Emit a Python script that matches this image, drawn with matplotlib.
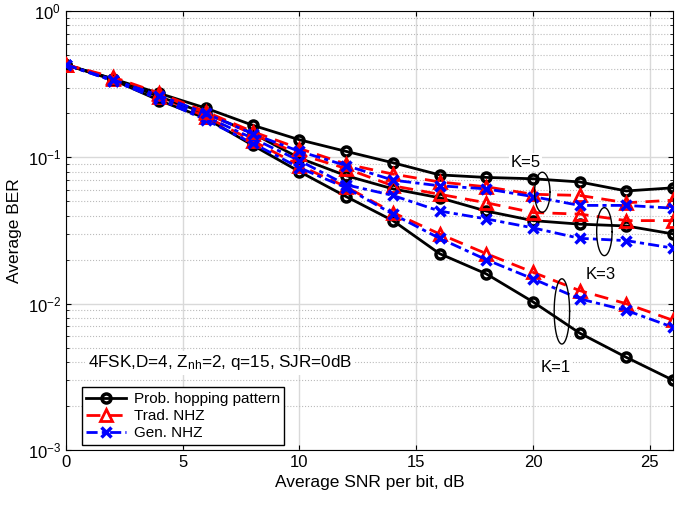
import numpy as np
import matplotlib
matplotlib.use("Agg")
import matplotlib.pyplot as plt

plt.rcParams['font.family'] = ['Liberation Sans', 'DejaVu Sans']
plt.rcParams['mathtext.fontset'] = 'custom'
plt.rcParams['mathtext.rm'] = 'Liberation Sans'
plt.rcParams['mathtext.it'] = 'Liberation Sans:italic'

# SNR per bit (dB)
snr = [0, 2, 4, 6, 8, 10, 12, 14, 16, 18, 20, 22, 24, 26]

# Prob. hopping pattern
prob_k1 = [0.43, 0.34, 0.245, 0.185, 0.121, 0.080, 0.054, 0.037, 0.022, 0.016, 0.0103, 0.0063, 0.0043, 0.0030]
prob_k3 = [0.43, 0.345, 0.26, 0.20, 0.146, 0.099, 0.075, 0.061, 0.053, 0.043, 0.037, 0.035, 0.034, 0.030]
prob_k5 = [0.43, 0.345, 0.274, 0.217, 0.166, 0.132, 0.110, 0.092, 0.076, 0.073, 0.0715, 0.068, 0.059, 0.062]

# Trad. NHZ
trad_k1 = [0.43, 0.345, 0.26, 0.19, 0.13, 0.088, 0.063, 0.042, 0.030, 0.022, 0.0164, 0.0123, 0.0100, 0.0077]
trad_k3 = [0.43, 0.35, 0.27, 0.20, 0.145, 0.105, 0.084, 0.064, 0.056, 0.049, 0.042, 0.041, 0.037, 0.037]
trad_k5 = [0.43, 0.355, 0.275, 0.205, 0.15, 0.115, 0.090, 0.077, 0.068, 0.063, 0.056, 0.055, 0.049, 0.051]

# Gen. NHZ
gen_k1 = [0.43, 0.335, 0.25, 0.18, 0.125, 0.085, 0.062, 0.041, 0.028, 0.020, 0.0148, 0.0108, 0.0090, 0.0069]
gen_k3 = [0.43, 0.335, 0.255, 0.19, 0.135, 0.095, 0.065, 0.055, 0.043, 0.038, 0.033, 0.028, 0.027, 0.024]
gen_k5 = [0.43, 0.34, 0.265, 0.20, 0.145, 0.11, 0.088, 0.070, 0.064, 0.061, 0.054, 0.047, 0.047, 0.045]

# ellipse marks: (center x, center y, half width in dB, half height in decades, label, label x, label y)
groups = [
    (20.4, 0.0578, 0.33, 0.137, 'K=5', 19.67, 0.093),
    (23.06, 0.0311, 0.33, 0.164, 'K=3', 22.9, 0.0158),
    (21.24, 0.00886, 0.33, 0.223, 'K=1', 20.96, 0.00366),
]

fig = plt.figure(figsize=(6.85, 5.08), dpi=100)
ax = fig.add_axes([0.0964, 0.1142, 0.8861, 0.8638])

lw = 2
for i, (p, t, g) in enumerate([(prob_k1, trad_k1, gen_k1), (prob_k3, trad_k3, gen_k3), (prob_k5, trad_k5, gen_k5)]):
    ax.plot(snr, p, '-', color='black', lw=lw, marker='o', ms=6.5, mfc='none', mew=2.5,
            label='Prob. hopping pattern' if i == 0 else None, zorder=3)
    ax.plot(snr, t, '--', color='red', lw=lw, dashes=(5, 3), marker='^', ms=8, mfc='none', mew=2,
            label='Trad. NHZ' if i == 0 else None, zorder=3)
    ax.plot(snr, g, '-.', color='blue', lw=lw, dashes=(4, 1.5, 1.5, 1.5), marker='x', ms=7, mew=2.5,
            label='Gen. NHZ' if i == 0 else None, zorder=3)

tt = np.linspace(0, 2 * np.pi, 100)
for cx, cy, a, b, lab, lx, ly in groups:
    ax.plot(cx + a * np.cos(tt), 10 ** (np.log10(cy) + b * np.sin(tt)), color='black', lw=1, zorder=4)
    ax.text(lx, ly, lab, ha='center', va='center', fontsize=12,
            bbox=dict(facecolor='white', edgecolor='none', pad=1), zorder=5)

ax.text(0.94, 0.00394, r'4FSK,D=4, Z$_{\rm nh}$=2, q=15, SJR=0dB', ha='left', va='center', fontsize=12.3,
        bbox=dict(facecolor='white', edgecolor='none', pad=2), zorder=5)

ax.set_yscale('log')
ax.set_xlim(0, 26)
ax.set_ylim(1e-3, 1)
ax.set_xticks([0, 5, 10, 15, 20, 25])
ax.grid(True, which='major', color='#d9d9d9', lw=1, ls='-')
ax.grid(True, which='minor', axis='y', color='#bbbbbb', lw=0.8, ls=':')
ax.tick_params(direction='in', which='both', top=True, right=True, labelsize=12)
ax.set_xlabel('Average SNR per bit, dB', fontsize=12.5)
ax.set_ylabel('Average BER', fontsize=12.5)

leg = ax.legend(loc='lower left', bbox_to_anchor=(0.026, 0.012), borderaxespad=0, fontsize=11,
                fancybox=False, framealpha=1, edgecolor='black', handlelength=2.6,
                labelspacing=0.2, borderpad=0.3, handletextpad=0.5)
leg.get_frame().set_linewidth(1)

fig.savefig('out.png', dpi=100)
